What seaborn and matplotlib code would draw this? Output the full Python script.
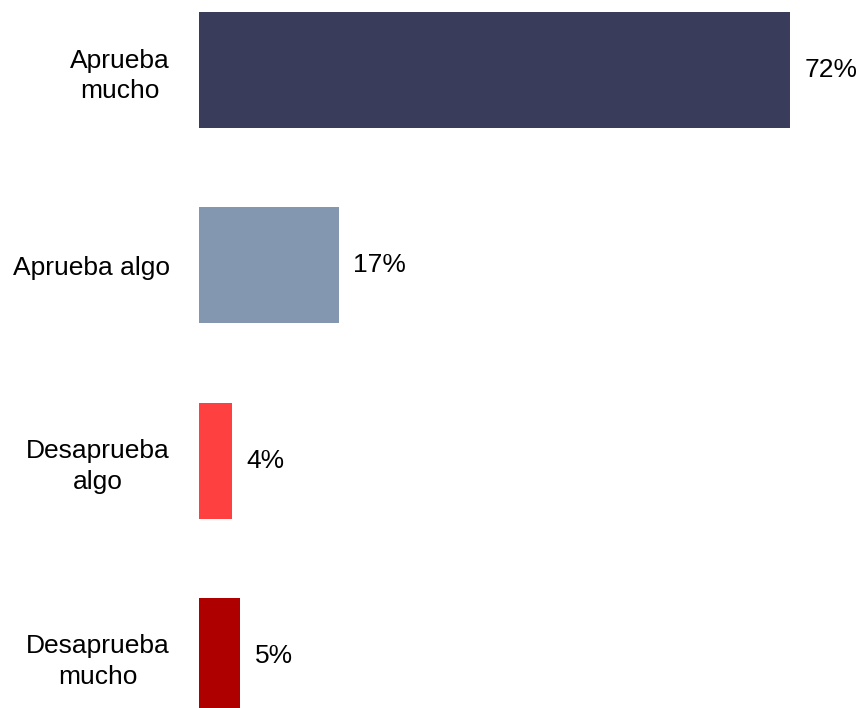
import matplotlib
matplotlib.use('Agg')
import matplotlib.pyplot as plt
import pandas as pd
import seaborn as sns

categories = ['Aprueba\nmucho', 'Aprueba algo', 'Desaprueba\nalgo', 'Desaprueba\nmucho']
values = [72, 17, 4, 5]
colors = ['#393C5A', '#8497B0', '#FF4040', '#AF0000']

df = pd.DataFrame({'categoria': categories, 'pct': values})

sns.set_style('white')
plt.rcParams['font.family'] = ['Liberation Sans', 'DejaVu Sans']
plt.rcParams['text.color'] = 'black'
plt.rcParams['ytick.color'] = 'black'

fig = plt.figure(figsize=(8.59, 7.08), dpi=100)
ax = fig.add_axes([199 / 859, 0, 1 - 199 / 859, 1])

sns.barplot(
    data=df,
    x='pct',
    y='categoria',
    hue='categoria',
    palette=colors,
    width=0.594,
    legend=False,
    saturation=1,
    orient='h',
    linewidth=0,
    ax=ax,
)

ax.set_xlim(0, 80.4)
ax.set_ylim(3 + 52 / 195.3, -70 / 195.3)
ax.set_xlabel('')
ax.set_ylabel('')
ax.set_xticks([])
sns.despine(ax=ax, left=True, bottom=True)
ax.tick_params(axis='y', length=0, pad=21, labelsize=19)
for lab in ax.get_yticklabels():
    lab.set_multialignment('center')
    lab.set_linespacing(1.35)

for cont in ax.containers:
    ax.bar_label(cont, fmt='%d%%', padding=10.5, fontsize=19, color='black')

fig.savefig('out.png', dpi=100)
